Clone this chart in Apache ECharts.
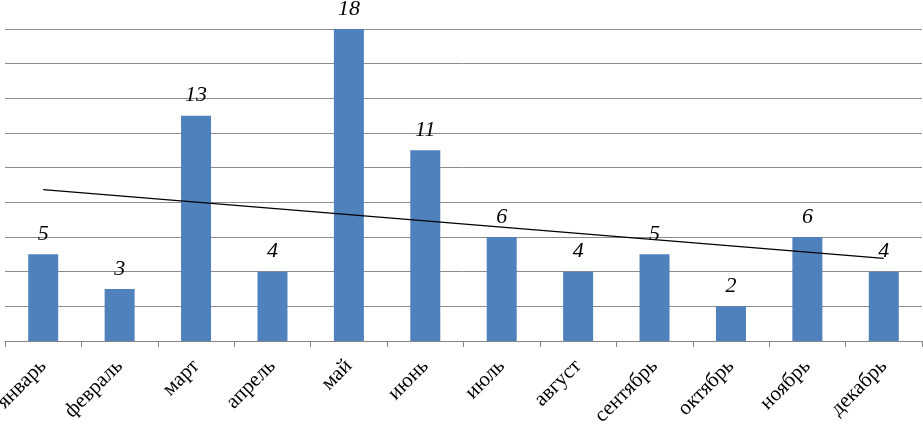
<!DOCTYPE html>
<html><head><meta charset="utf-8">
<script src="https://cdn.jsdelivr.net/npm/echarts@6/dist/echarts.min.js"></script>
<style>html,body{margin:0;padding:0;background:#fff}#c{width:923px;height:425px}</style>
</head><body><div id="c"></div>
<script>
const months = ['январь','февраль','март','апрель','май','июнь','июль','август','сентябрь','октябрь','ноябрь','декабрь'];
const values = [5,3,13,4,18,11,6,4,5,2,6,4];
// trend line endpoints (first and last month)
const trendStart = 8.73;
const trendEnd = 4.77;
const trendData = months.map((m,i)=> i===0 ? trendStart : (i===months.length-1 ? trendEnd : null));

const chart = echarts.init(document.getElementById('c'), null, {renderer:'canvas'});
chart.setOption({
  animation:false,
  grid:{left:5,right:1,top:29,bottom:84,containLabel:false,outerBoundsMode:'none'},
  xAxis:{
    type:'category', data:months,
    axisLine:{lineStyle:{color:'#868686',width:1}},
    axisTick:{show:true,length:6,lineStyle:{color:'#868686'}},
    axisLabel:{rotate:45,color:'#000',fontFamily:'Liberation Serif',fontSize:21,margin:22,interval:0}
  },
  yAxis:{
    type:'value',min:0,max:18,interval:2,
    axisLabel:{show:false},axisLine:{show:false},axisTick:{show:false},
    splitLine:{lineStyle:{color:'#8c8c8c',width:1}}
  },
  series:[
    {type:'bar',data:values,barWidth:30,itemStyle:{color:'#4F81BD'},
     label:{show:true,position:'top',distance:9,color:'#000',fontFamily:'Liberation Serif',fontStyle:'italic',fontSize:22}},
    {type:'line',data:trendData,connectNulls:true,symbol:'none',
     lineStyle:{color:'#000',width:1.2},z:5}
  ]
});
</script></body></html>
